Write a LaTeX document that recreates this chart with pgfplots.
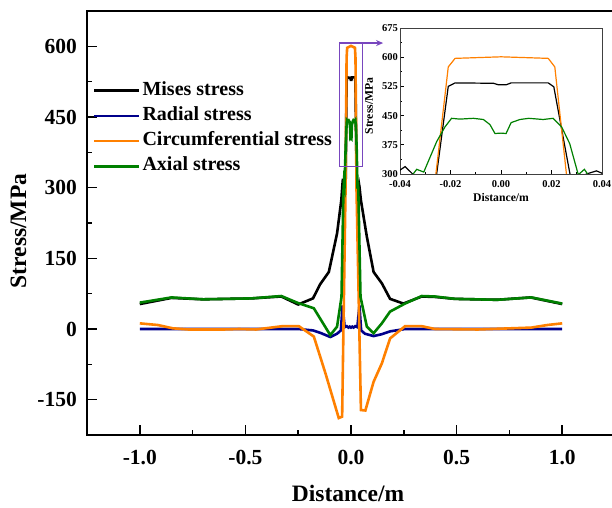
\documentclass[border=0pt]{standalone}
\usepackage{fontspec}
\setmainfont{Liberation Serif}
\usepackage{pgfplots}
\usepackage{pgfplotstable}
\pgfplotsset{compat=1.18}
\usetikzlibrary{arrows.meta}
\definecolor{cnavy}{RGB}{0,0,139}
\definecolor{corange}{RGB}{255,128,0}
\definecolor{cgreen}{RGB}{0,128,0}
\definecolor{cpurple}{RGB}{120,70,190}

\pgfplotstableread{
x y
-1.0 53
-0.85 66
-0.70 63
-0.47 65
-0.33 69
-0.25 52
-0.18 65
-0.146 95
-0.105 121
-0.066 203
-0.046 273
-0.040 310
-0.038 319
-0.035 300
-0.030 285
-0.0255 300
-0.0209 525
-0.0182 534
-0.003 533
-0.001 529
0.002 529
0.004 534
0.0187 534
0.0209 524
0.0273 300
0.031 285
0.0338 300
0.0378 308
0.040 302
0.047 273
0.075 196
0.107 121
0.146 97
0.185 64
0.248 54
0.335 69
0.40 68
0.49 64
0.69 62
0.85 67
1.0 53
}\mises

\pgfplotstableread{
x y
-1.0 0
-0.5 0
-0.25 0
-0.18 -3
-0.146 -8
-0.098 -17
-0.066 -10
-0.048 -3
-0.040 50
-0.030 4
-0.020 6
-0.012 3
-0.006 5
0.0 3
0.006 5
0.012 3
0.020 6
0.030 4
0.040 50
0.048 -3
0.066 -10
0.107 -15
0.146 -11
0.185 -5
0.256 0
0.5 0
1.0 0
}\radial

\pgfplotstableread{
x y
-1.0 12
-0.915 8.5
-0.844 1.5
-0.77 -1
-0.6 -1
-0.53 0
-0.45 -1
-0.325 6
-0.247 6
-0.176 -16
-0.121 -94
-0.058 -189
-0.042 -186
-0.0258 300
-0.0209 575
-0.0182 597
0.0 601
0.0187 597
0.0213 575
0.0259 300
0.047 -172
0.068 -173
0.107 -112
0.146 -73
0.185 -20
0.256 6
0.335 6
0.398 0
0.6 -1
0.854 3
0.93 8.5
1.0 12
}\circum

\pgfplotstableread{
x y
-1.0 56
-0.85 67
-0.70 63
-0.47 65
-0.33 70
-0.25 55
-0.176 44
-0.098 -13
-0.066 5
-0.045 68
-0.036 290
-0.0334 312
-0.0306 305
-0.0255 383
-0.0222 421
-0.0196 443
-0.0163 441
-0.011 443
-0.007 440
-0.0044 427
-0.0024 404
0.0 405
0.0020 404
0.004 432
0.0075 440
0.011 443
0.0167 440
0.0206 443
0.024 421
0.0272 378
0.0306 298
0.033 312
0.0345 298
0.045 68
0.075 5
0.107 -9
0.146 12
0.185 37
0.256 54
0.335 70
0.397 69
0.492 64
0.693 62
0.854 67
1.0 54
}\axial

\begin{document}
\begin{tikzpicture}
\begin{axis}[
  at={(87pt,72pt)}, anchor=south west, scale only axis,
  width=528pt, height=424pt,
  xmin=-1.25, xmax=1.25, ymin=-225, ymax=675,
  xtick={-1,-0.5,0,0.5,1}, minor x tick num=1,
  ytick={-150,0,150,300,450,600}, minor y tick num=1,
  tick align=inside, xtick pos=bottom, ytick pos=left,
  major tick length=10pt, minor tick length=5pt,
  axis line style={line width=2pt},
  tick style={black, line width=1.5pt},
  /pgf/number format/assume math mode=true,
  tick label style={font=\fontsize{21.5}{24}\selectfont\bfseries},
  xticklabel style={anchor=base, yshift=-29pt, /pgf/number format/fixed, /pgf/number format/fixed zerofill, /pgf/number format/precision=1},
  yticklabel style={anchor=east, inner sep=0pt, xshift=-10pt},
  xlabel={Distance/m}, ylabel={Stress/MPa},
  every axis x label/.style={at={(axis description cs:0.4943,-0.1557)}, anchor=base, inner sep=0pt, font=\fontsize{23.5}{26}\selectfont\bfseries},
  every axis y label/.style={at={(axis description cs:-0.1155,0.481)}, rotate=90, anchor=base, inner sep=0pt, font=\fontsize{23.5}{26}\selectfont\bfseries},
  legend style={draw=none, fill=none, at={(axis description cs:0.005,0.847)}, anchor=north west,
    font=\fontsize{20}{22}\selectfont\bfseries, row sep=0pt,
    nodes={inner sep=2pt, text height=15pt, text depth=6.2pt}},
  legend cell align=left,
  legend image code/.code={\draw[#1, line width=2.7pt] (0pt,0pt) -- (45pt,0pt);},
]
\addplot[black, line width=2.6pt] table {\mises};
\addlegendentry{Mises stress}
\addplot[cnavy, line width=2.6pt] table {\radial};
\addlegendentry{Radial stress}
\addplot[corange, line width=2.6pt] table {\circum};
\addlegendentry{Circumferential stress}
\addplot[cgreen, line width=2.6pt] table {\axial};
\addlegendentry{Axial stress}
\draw[cpurple, line width=1.5pt] (axis cs:-0.055,345) rectangle (axis cs:0.055,607);
\draw[cpurple, line width=1.5pt, -{Stealth[length=7pt,width=6pt]}] (axis cs:0.055,607) -- (axis cs:0.152,607);
\end{axis}

\begin{axis}[
  at={(400pt,333pt)}, anchor=south west, scale only axis,
  width=202pt, height=146pt,
  axis background/.style={fill=white},
  xmin=-0.04, xmax=0.04, ymin=300, ymax=675,
  scaled x ticks=false, scaled y ticks=false,
  xtick={-0.04,-0.02,0,0.02,0.04}, minor x tick num=1,
  ytick={300,375,450,525,600,675}, minor y tick num=1,
  tick align=inside, xtick pos=bottom, ytick pos=left,
  major tick length=4pt, minor tick length=2pt,
  axis line style={line width=0.8pt, black!75},
  tick style={black, line width=0.6pt},
  /pgf/number format/assume math mode=true,
  tick label style={font=\fontsize{10.5}{12}\selectfont\bfseries},
  xticklabel style={anchor=base, yshift=-13.3pt, /pgf/number format/fixed, /pgf/number format/fixed zerofill, /pgf/number format/precision=2},
  yticklabel style={anchor=east, inner sep=0pt, xshift=-2pt},
  xlabel={Distance/m}, ylabel={Stress/MPa},
  every axis x label/.style={at={(axis description cs:0.5,-0.19)}, anchor=base, inner sep=0pt, font=\fontsize{11.7}{13}\selectfont\bfseries},
  every axis y label/.style={at={(axis description cs:-0.134,0.466)}, rotate=90, anchor=base, inner sep=0pt, font=\fontsize{11.7}{13}\selectfont\bfseries},
]
\addplot[black, line width=1.2pt] table {\mises};
\addplot[cnavy, line width=1.2pt] table {\radial};
\addplot[corange, line width=1.2pt] table {\circum};
\addplot[cgreen, line width=1.2pt] table {\axial};
\end{axis}
\pgfresetboundingbox
\path[use as bounding box] (0pt,0pt) rectangle (612pt,507pt);
\end{tikzpicture}
\end{document}
